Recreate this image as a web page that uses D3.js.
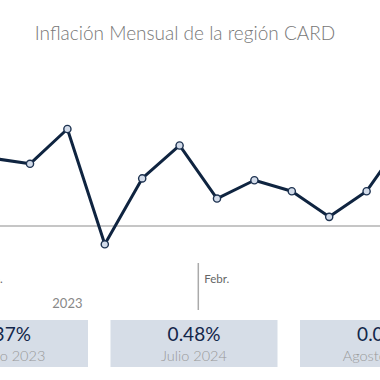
<!DOCTYPE html>
<html>
<head>
<meta charset="utf-8">
<script src="https://cdn.jsdelivr.net/npm/d3@7"></script>
<style>
  html, body { margin: 0; padding: 0; background: #fff; }
  svg { display: block; font-family: Lato, "Open Sans", sans-serif; }
</style>
</head>
<body>
<svg id="chart" width="380" height="380"></svg>
<script>
// ---- data ----
const months = ["2023-08","2023-09","2023-10","2023-11","2023-12","2024-01",
                "2024-02","2024-03","2024-04","2024-05","2024-06","2024-07","2024-08"];
const values = [0.37, 0.34, 0.53, -0.10, 0.26, 0.44, 0.15, 0.25, 0.19, 0.05, 0.19, 0.48, 0.05];
const tickMonths = ["2023-08", "2024-02"];
const tickLabels = ["Ago.", "Febr."];
const yearLabels = ["2023"];
const cardValues = ["0.37%", "0.48%", "0.05%"];
const cardLabels = ["Agosto 2023", "Julio 2024", "Agosto 2024"];
const title = "Inflación Mensual de la región CARD";

const W = 380, H = 380;
const svg = d3.select("#chart");

const step = 37.4;
const x = d3.scaleBand()
  .domain(months)
  .range([-26.1, -26.1 + step * months.length])
  .paddingInner(0).paddingOuter(0);
const cx = m => x(m) + x.bandwidth() / 2;

const y = d3.scaleLinear().domain([0, 0.5]).range([226, 134.5]);

// title
svg.append("text")
  .attr("x", 185).attr("y", 40)
  .attr("text-anchor", "middle")
  .attr("font-size", 19)
  .attr("font-weight", 300)
  .attr("fill", "#777")
  .text(title);

// zero line
svg.append("line")
  .attr("x1", 0).attr("x2", W)
  .attr("y1", y(0)).attr("y2", y(0))
  .attr("stroke", "#b3b3b3").attr("stroke-width", 1.6);

// series
const data = months.map((m, i) => ({ m, v: values[i] }));
const line = d3.line().x(d => cx(d.m)).y(d => y(d.v));
svg.append("path")
  .datum(data)
  .attr("d", line)
  .attr("fill", "none")
  .attr("stroke", "#0f2440")
  .attr("stroke-width", 3)
  .attr("stroke-linejoin", "round");

svg.selectAll("circle.pt")
  .data(data)
  .join("circle")
  .attr("class", "pt")
  .attr("cx", d => cx(d.m))
  .attr("cy", d => y(d.v))
  .attr("r", 3.6)
  .attr("fill", "#d3dcea")
  .attr("stroke", "#1d3250")
  .attr("stroke-width", 1.4);

// x tick labels (left aligned at band start, with separator line)
tickMonths.forEach((m, i) => {
  const bx = x(m);
  svg.append("line")
    .attr("x1", bx).attr("x2", bx)
    .attr("y1", 263).attr("y2", 310)
    .attr("stroke", "#aaa").attr("stroke-width", 1.5);
  svg.append("text")
    .attr("x", bx + 6).attr("y", 283)
    .attr("font-size", 11.5)
    .attr("fill", "#666")
    .text(tickLabels[i]);
});

// year labels, centred on that year's span in the data
yearLabels.forEach(yr => {
  const ms = months.filter(m => m.startsWith(yr));
  const x0 = x(ms[0]), x1 = x(ms[ms.length - 1]) + x.bandwidth();
  svg.append("text")
    .attr("x", (x0 + x1) / 2).attr("y", 308)
    .attr("text-anchor", "middle")
    .attr("font-size", 13)
    .attr("fill", "#888")
    .text(yr);
});

// cards
const cardW = 167, cardH = 47, cardTop = 320, cardPitch = 189.5, card0 = 4.5;
cardValues.forEach((v, i) => {
  const c = card0 + i * cardPitch;
  svg.append("rect")
    .attr("x", c - cardW / 2).attr("y", cardTop)
    .attr("width", cardW).attr("height", cardH)
    .attr("fill", "#d6dde7");
  svg.append("text")
    .attr("x", c).attr("y", 341)
    .attr("text-anchor", "middle")
    .attr("font-size", 19)
    .attr("font-weight", 400)
    .attr("fill", "#12264a")
    .text(v);
  svg.append("text")
    .attr("x", c).attr("y", 361)
    .attr("text-anchor", "middle")
    .attr("font-size", 14.5)
    .attr("font-weight", 300)
    .attr("fill", "#999")
    .text(cardLabels[i]);
});
</script>
</body>
</html>
